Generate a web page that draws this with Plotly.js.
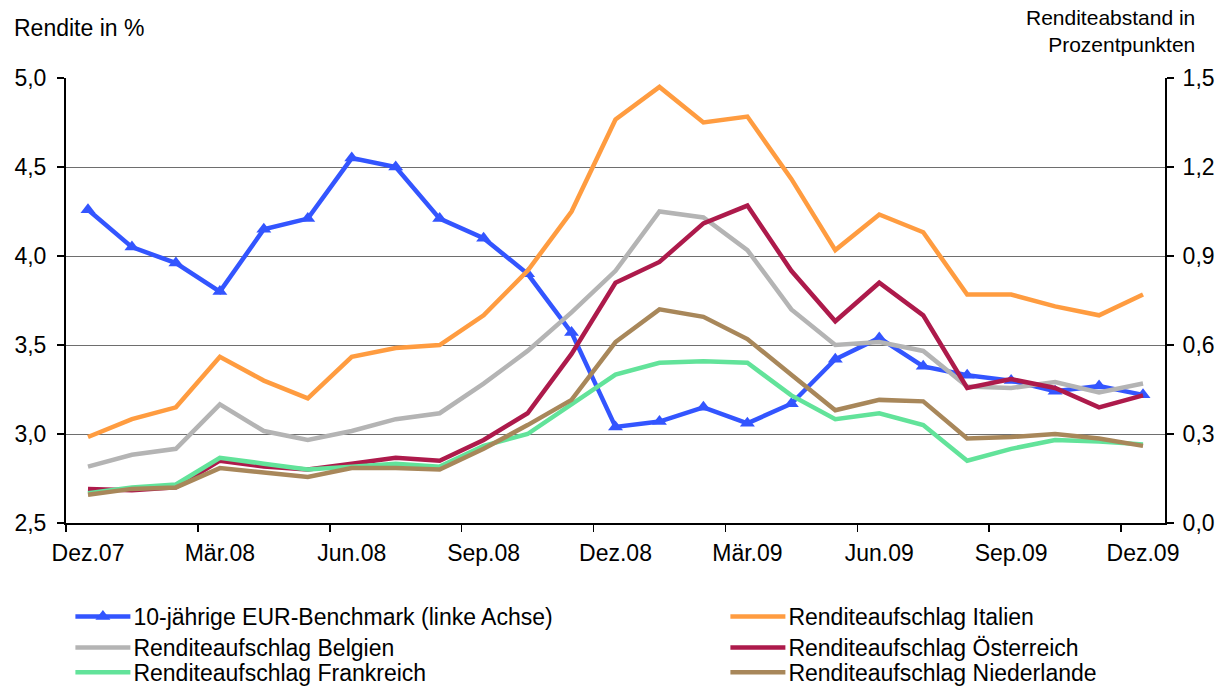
<!DOCTYPE html>
<html>
<head>
<meta charset="utf-8">
<script src="https://cdn.plot.ly/plotly-3.0.1.min.js"></script>
<style>html,body{margin:0;padding:0;background:#fff;}#chart{width:1226px;height:686px;}</style>
</head>
<body>
<div id="chart"></div>
<script>
// Monthly observations Dez.07 ... Dez.09 (25 months)
const monthIndex = [0,1,2,3,4,5,6,7,8,9,10,11,12,13,14,15,16,17,18,19,20,21,22,23,24];
const tickPositions = [0,3,6,9,12,15,18,21,24];
const tickLabels = ['Dez.07','Mär.08','Jun.08','Sep.08','Dez.08','Mär.09','Jun.09','Sep.09','Dez.09'];
const tickBoundaries = [-0.5,2.5,5.5,8.5,11.5,14.5,17.5,20.5,23.5];

const benchmark   = [4.26,4.05,3.96,3.80,4.15,4.21,4.55,4.50,4.21,4.10,3.90,3.57,3.04,3.07,3.15,3.06,3.17,3.42,3.54,3.38,3.33,3.30,3.24,3.27,3.22];
const italien     = [0.29,0.35,0.39,0.56,0.48,0.42,0.56,0.59,0.60,0.70,0.85,1.05,1.36,1.47,1.35,1.37,1.16,0.92,1.04,0.98,0.77,0.77,0.73,0.70,0.77];
const belgien     = [0.19,0.23,0.25,0.40,0.31,0.28,0.31,0.35,0.37,0.47,0.58,0.71,0.85,1.05,1.03,0.92,0.72,0.60,0.61,0.58,0.46,0.455,0.475,0.44,0.47];
const oesterreich = [0.115,0.11,0.12,0.21,0.19,0.18,0.20,0.22,0.21,0.28,0.37,0.57,0.81,0.88,1.01,1.07,0.85,0.68,0.81,0.70,0.455,0.485,0.455,0.39,0.43];
const frankreich  = [0.10,0.12,0.13,0.22,0.20,0.18,0.19,0.20,0.19,0.26,0.30,0.40,0.50,0.54,0.545,0.54,0.43,0.35,0.37,0.33,0.21,0.25,0.28,0.275,0.265];
const niederlande = [0.095,0.115,0.12,0.185,0.17,0.155,0.185,0.185,0.18,0.25,0.33,0.415,0.61,0.72,0.695,0.62,0.50,0.38,0.415,0.41,0.285,0.29,0.30,0.285,0.26];

const FONT = 'Liberation Sans, Arial, Helvetica, sans-serif';
const FS = 23;

function spread(name, y, color, legend) {
  return {x: monthIndex, y: y, name: name, type: 'scatter', mode: 'lines',
          yaxis: 'y2', legend: legend,
          line: {color: color, width: 4.5}};
}

const traces = [
  {x: monthIndex, y: benchmark, name: '10-jährige EUR-Benchmark (linke Achse)',
   type: 'scatter', mode: 'lines+markers', yaxis: 'y', legend: 'legend',
   line: {color: '#3355ff', width: 4.5},
   marker: {symbol: 'triangle-up', size: 13, color: '#3355ff'}},
  spread('Renditeaufschlag Italien', italien, '#ff9c40', 'legend2'),
  spread('Renditeaufschlag Belgien', belgien, '#b4b4b4', 'legend3'),
  spread('Renditeaufschlag Österreich', oesterreich, '#ad1a4b', 'legend4'),
  spread('Renditeaufschlag Frankreich', frankreich, '#62e39a', 'legend5'),
  spread('Renditeaufschlag Niederlande', niederlande, '#a8875a', 'legend6')
];

function leg(x, y) {
  return {x: x, y: y, xanchor: 'left', yanchor: 'top', orientation: 'v',
    bgcolor: 'rgba(0,0,0,0)', font: {family: FONT, size: FS, color: '#000'},
    tracegroupgap: 0, itemclick: false, itemwidth: 53};
}

const layout = {
  width: 1226, height: 686,
  margin: {l: 66, r: 61, t: 78, b: 163, autoexpand: false},
  paper_bgcolor: '#ffffff', plot_bgcolor: '#ffffff',
  font: {family: FONT, size: FS, color: '#000'},
  separators: ',.',
  showlegend: true,
  xaxis: {
    range: [-0.5, 24.5], tickmode: 'array', tickvals: tickPositions, ticktext: tickLabels,
    ticks: '', showline: true, linecolor: '#000', linewidth: 2,
    showgrid: false, zeroline: false, ticklabelstandoff: 8,
    tickfont: {family: FONT, size: FS, color: '#000'},
    minor: {tickmode: 'array', tickvals: tickBoundaries, ticks: 'outside', ticklen: 7,
            tickwidth: 1.5, tickcolor: '#000', showgrid: false}
  },
  yaxis: {
    range: [2.5, 5.0], tick0: 2.5, dtick: 0.5, tickformat: '.1f',
    ticks: 'outside', ticklen: 7, tickwidth: 1.5, tickcolor: '#000',
    showline: true, linecolor: '#000', linewidth: 2,
    showgrid: true, gridcolor: '#6e6e6e', gridwidth: 1, zeroline: false,
    ticklabelstandoff: 6,
    tickfont: {family: FONT, size: FS, color: '#000'}
  },
  yaxis2: {
    overlaying: 'y', side: 'right',
    range: [0, 1.5], tick0: 0, dtick: 0.3, tickformat: '.1f',
    ticks: 'outside', ticklen: 7, tickwidth: 1.5, tickcolor: '#000',
    showline: true, linecolor: '#000', linewidth: 2,
    showgrid: false, zeroline: false, ticklabelstandoff: 4,
    tickfont: {family: FONT, size: FS, color: '#000'}
  },
  legend:  leg(0.004, -0.1618),
  legend2: leg(0.600, -0.1618),
  legend3: leg(0.004, -0.2315),
  legend4: leg(0.600, -0.2315),
  legend5: leg(0.004, -0.2870),
  legend6: leg(0.600, -0.2870),
  annotations: [
    {text: 'Rendite in %', xref: 'paper', yref: 'paper', x: -0.0494, y: 1.1124,
     xanchor: 'left', yanchor: 'middle', showarrow: false,
     font: {family: FONT, size: FS, color: '#000'}},
    {text: 'Renditeabstand in<br>Prozentpunkten', xref: 'paper', yref: 'paper', x: 1.0291, y: 1.1067,
     xanchor: 'right', yanchor: 'middle', align: 'right', showarrow: false,
     font: {family: FONT, size: 21, color: '#000'}}
  ]
};

Plotly.newPlot('chart', traces, layout, {displayModeBar: false, staticPlot: true}).then(function (gd) {
  // lengthen legend line samples to match the original legend keys
  gd.querySelectorAll('.legendlines path').forEach(function (p) { p.setAttribute('d', 'M5,0h55'); });
  gd.querySelectorAll('.legendpoints path').forEach(function (p) {
    p.setAttribute('transform', 'translate(32.5,0)');
  });
});
</script>
</body>
</html>
